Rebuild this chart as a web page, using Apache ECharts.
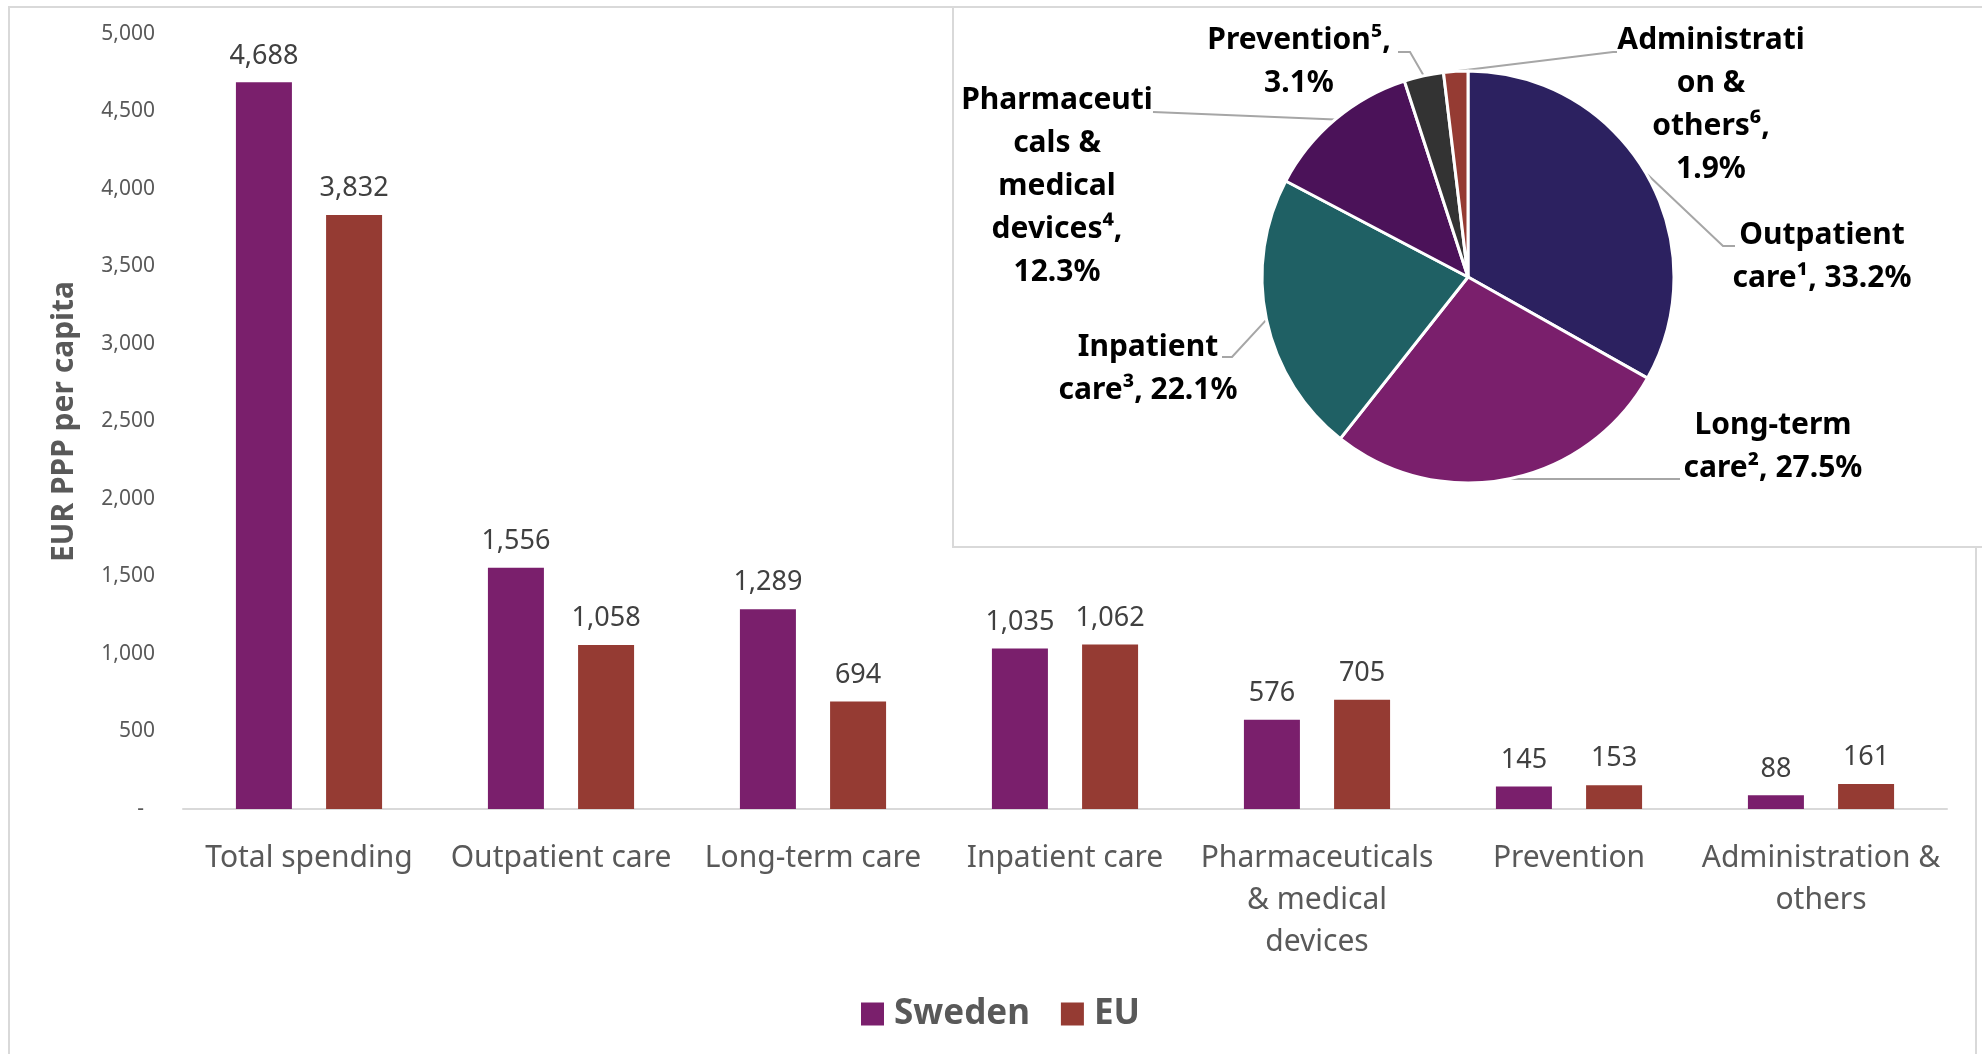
<!DOCTYPE html>
<html>
<head>
<meta charset="utf-8">
<title>Health spending per capita: Sweden vs EU</title>
<script src="https://cdn.jsdelivr.net/npm/echarts@6/dist/echarts.min.js"></script>
<style>
  html, body { margin: 0; padding: 0; background: #fff; }
  #chart { width: 1982px; height: 1054px; }
</style>
</head>
<body>
<div id="chart"></div>
<script>
// Spending categories (bar chart)
const categories = [
  'Total spending',
  'Outpatient care',
  'Long-term care',
  'Inpatient care',
  'Pharmaceuticals\n& medical\ndevices',
  'Prevention',
  'Administration &\nothers'
];
// EUR PPP per capita
const swedenValues = [4688, 1556, 1289, 1035, 576, 145, 88];
const euValues = [3832, 1058, 694, 1062, 705, 153, 161];
const seriesNames = ['Sweden', 'EU'];

// Value axis
const yMin = 0;
const yMax = 5000;
const yStep = 500;

// Breakdown of Swedish spending (pie, %)
const pieNames = [
  'Outpatient care',
  'Long-term care',
  'Inpatient care',
  'Pharmaceuticals & medical devices',
  'Prevention',
  'Administration & others'
];
const pieShares = [33.2, 27.5, 22.1, 12.3, 3.1, 1.9];
// Wrapped label text for each slice, and whether the share sits on its own line
const pieLabelLead = [
  'Outpatient\ncare\u00B9',
  'Long-term\ncare\u00B2',
  'Inpatient\ncare\u00B3',
  'Pharmaceuti\ncals &\nmedical\ndevices\u2074',
  'Prevention\u2075',
  'Administrati\non &\nothers\u2076'
];
const pieShareOnNewLine = [false, false, false, true, true, true];

// Styling
const barColors = ['#7A1F6C', '#953B33'];
const pieColors = ['#2C2160', '#7A1F6C', '#1F6064', '#4B1259', '#333333', '#953B33'];
const FONT = 'Noto Sans';

// Pie geometry and where each slice label sits (label centre, bend and end of its leader line)
const pieCenter = [1468, 277];
const pieRadius = 206;
const pieLabelSpots = [
  { x: 1822, y: 257, line: [[1723, 246], [1735, 246]] },
  { x: 1773, y: 447, line: [[1670, 479], [1680, 479]] },
  { x: 1148, y: 369, line: [[1232, 357], [1222, 357]] },
  { x: 1057, y: 186, line: [[1153, 112]] },
  { x: 1299, y: 62,  line: [[1410, 52], [1398, 52]] },
  { x: 1711, y: 105, line: [[1613, 52], [1617, 52]] }
];

// Point on the pie rim at the middle of slice i (clockwise from 12 o'clock)
function sliceRimPoint(i) {
  const total = pieShares.reduce((a, b) => a + b, 0);
  let before = 0;
  for (let k = 0; k < i; k++) before += pieShares[k];
  const mid = (before + pieShares[i] / 2) / total * Math.PI * 2;
  return [pieCenter[0] + pieRadius * Math.sin(mid), pieCenter[1] - pieRadius * Math.cos(mid)];
}

const fmt = v => v.toLocaleString('en-US');

const chart = echarts.init(document.getElementById('chart'), null, { renderer: 'canvas' });

const option = {
  backgroundColor: '#ffffff',
  animation: false,
  textStyle: { fontFamily: FONT },
  graphic: [
    {
      type: 'rect', z: 0, silent: true,
      shape: { x: 9, y: 7, width: 1967, height: 1100 },
      style: { fill: 'none', stroke: '#D9D9D9', lineWidth: 2 }
    },
    {
      type: 'rect', z: 0, silent: true,
      shape: { x: 953, y: 7, width: 1060, height: 540 },
      style: { fill: '#ffffff', stroke: '#D9D9D9', lineWidth: 2 }
    }
  ],
  legend: {
    data: seriesNames,
    left: 856,
    top: 987,
    icon: 'rect',
    itemWidth: 23,
    itemHeight: 23,
    itemGap: 31,
    textStyle: {
      fontFamily: FONT,
      fontSize: 35,
      fontWeight: 'bold',
      color: '#595959',
      lineHeight: 44,
      padding: [0, 0, 0, 5]
    }
  },
  grid: { left: 183, right: 35, top: 34, bottom: 245, containLabel: false },
  xAxis: {
    type: 'category',
    data: categories,
    axisLine: { show: true, lineStyle: { color: '#D9D9D9', width: 2 } },
    axisTick: { show: false },
    axisLabel: {
      interval: 0,
      margin: 28,
      fontFamily: FONT,
      fontSize: 30,
      lineHeight: 42,
      color: '#595959',
      align: 'center'
    }
  },
  yAxis: {
    type: 'value',
    min: yMin,
    max: yMax,
    interval: yStep,
    name: 'EUR PPP per capita',
    nameLocation: 'middle',
    nameRotate: 90,
    nameGap: 104,
    nameTextStyle: { fontFamily: FONT, fontSize: 30, fontWeight: 'bold', color: '#595959' },
    axisLine: { show: false },
    axisTick: { show: false },
    splitLine: { show: false },
    axisLabel: {
      margin: 28,
      fontFamily: FONT,
      fontSize: 21,
      color: '#595959',
      formatter: v => (v === 0 ? '-  ' : fmt(v))
    }
  },
  series: [
    {
      name: seriesNames[0],
      type: 'bar',
      data: swedenValues,
      barWidth: 56,
      barGap: '61%',
      itemStyle: { color: barColors[0] },
      label: {
        show: true, position: 'top', distance: 13,
        fontFamily: FONT, fontSize: 27, color: '#404040',
        formatter: p => fmt(p.value)
      }
    },
    {
      name: seriesNames[1],
      type: 'bar',
      data: euValues,
      barWidth: 56,
      barGap: '61%',
      itemStyle: { color: barColors[1] },
      label: {
        show: true, position: 'top', distance: 13,
        fontFamily: FONT, fontSize: 27, color: '#404040',
        formatter: p => fmt(p.value)
      }
    },
    {
      name: 'Sweden breakdown',
      type: 'pie',
      center: pieCenter,
      radius: pieRadius,
      startAngle: 90,
      clockwise: true,
      avoidLabelOverlap: false,
      z: 3,
      data: pieNames.map((n, i) => ({ name: n, value: pieShares[i] })),
      color: pieColors,
      itemStyle: { borderColor: '#ffffff', borderWidth: 3 },
      label: {
        show: true,
        position: 'outside',
        fontFamily: FONT,
        fontSize: 30,
        fontWeight: 'bold',
        lineHeight: 43,
        color: '#000000',
        formatter: p => pieLabelLead[p.dataIndex] + (pieShareOnNewLine[p.dataIndex] ? ',\n' : ', ') + p.value.toFixed(1) + '%'
      },
      labelLine: {
        show: true,
        smooth: false,
        lineStyle: { color: '#A6A6A6', width: 2 }
      },
      labelLayout: params => {
        const i = params.dataIndex;
        const spot = pieLabelSpots[i];
        return {
          x: spot.x,
          y: spot.y,
          align: 'center',
          verticalAlign: 'middle',
          labelLinePoints: [sliceRimPoint(i)].concat(spot.line)
        };
      }
    }
  ]
};

chart.setOption(option);
</script>
</body>
</html>
